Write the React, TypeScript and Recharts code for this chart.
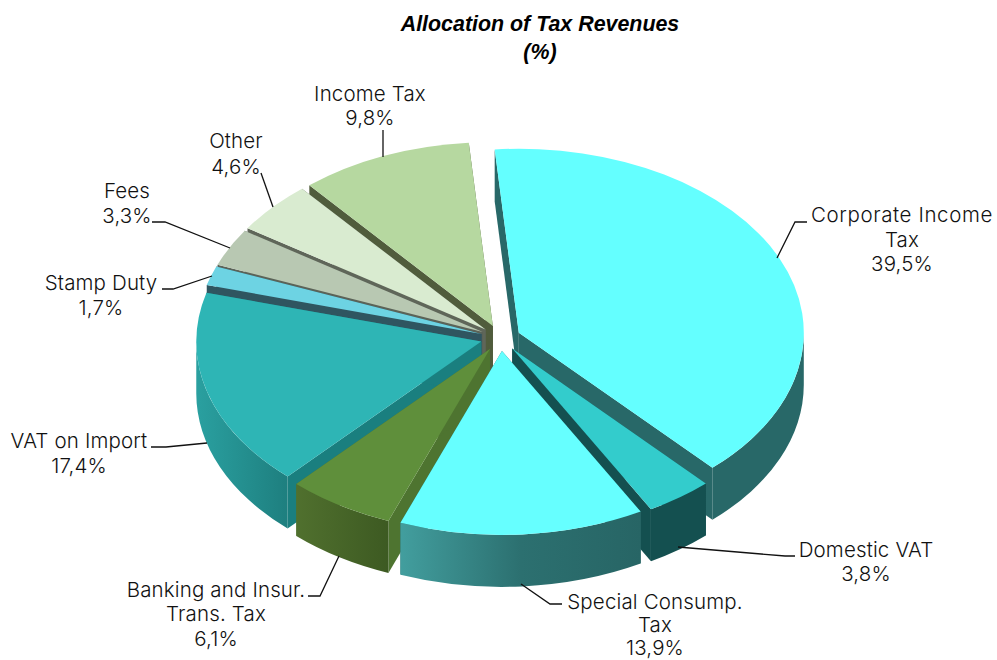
import { Pie, PieChart } from "recharts";

const sliceNames = [
  "Corporate Income Tax",
  "Domestic VAT",
  "Special Consump. Tax",
  "Banking and Insur. Trans. Tax",
  "VAT on Import",
  "Stamp Duty",
  "Fees",
  "Other",
  "Income Tax",
];
const sliceValues = [39.5, 3.8, 13.9, 6.1, 17.4, 1.7, 3.3, 4.6, 9.8];

const slices = sliceNames.map((name, i) => ({ name, value: sliceValues[i] }));

// back to front, the pie is exploded so the cut faces overlap
const drawOrder = [
  "Income Tax",
  "Other",
  "Fees",
  "Stamp Duty",
  "VAT on Import",
  "Corporate Income Tax",
  "Domestic VAT",
  "Banking and Insur. Trans. Tax",
  "Special Consump. Tax",
];

const CX = 500.5;
const CY = 338;
const RX = 285;
const TILT = 184 / 285;
const DEPTH = 52;
const EXPLODE = 20;
const START = 94.85;
const FONT = "Inter, sans-serif";

type SliceStyle = { top: string; cut: string; wall: string[] };

const styles: Record<string, SliceStyle> = {
  "Corporate Income Tax": { top: "#64ffff", cut: "#286868", wall: ["#286868", "#286868"] },
  "Domestic VAT": { top: "#33cccc", cut: "#145050", wall: ["#145050", "#145050"] },
  "Special Consump. Tax": { top: "#66ffff", cut: "#286868", wall: ["#429e9e", "#2c7070", "#276565"] },
  "Banking and Insur. Trans. Tax": { top: "#5f8f3b", cut: "#4e7430", wall: ["#50702e", "#3d5a22"] },
  "VAT on Import": { top: "#2eb5b5", cut: "#1a7f7f", wall: ["#2aa0a0", "#1e7f7f"] },
  "Stamp Duty": { top: "#6dd3e3", cut: "#2f5560", wall: ["#2f5560", "#2f5560"] },
  Fees: { top: "#b8c8b2", cut: "#5b6358", wall: ["#5b6358", "#5b6358"] },
  Other: { top: "#d9ebd0", cut: "#5f6659", wall: ["#5f6659", "#5f6659"] },
  "Income Tax": { top: "#b6d8a0", cut: "#505c3c", wall: ["#505c3c", "#505c3c"] },
};

// text lines and leader line for each outside label
const labelLayout: Record<string, { x: number; y: number[]; lines: string[]; leader: string; spacing?: number }> = {
  "Corporate Income Tax": {
    x: 902,
    y: [222, 247, 271],
    lines: ["Corporate Income", "Tax"],
    leader: "777,258 795,222 807,222",
    spacing: 0.6,
  },
  "Domestic VAT": { x: 866, y: [557, 581], lines: ["Domestic VAT"], leader: "678,547 785,556 795,556" },
  "Special Consump. Tax": {
    x: 655,
    y: [609, 632, 655],
    lines: ["Special Consump.", "Tax"],
    leader: "521,584 550,604 562,604",
  },
  "Banking and Insur. Trans. Tax": {
    x: 216,
    y: [597, 621, 646],
    lines: ["Banking and Insur.", "Trans. Tax"],
    leader: "339,556 320,596 308,596",
  },
  "VAT on Import": { x: 79, y: [448, 473], lines: ["VAT on Import"], leader: "207,443 166,447 151,447" },
  "Stamp Duty": { x: 101, y: [290, 315], lines: ["Stamp Duty"], leader: "212,276 173,289 162,289" },
  Fees: { x: 127, y: [198, 223], lines: ["Fees"], leader: "230,248 165,222 152,222" },
  Other: { x: 236, y: [148, 174], lines: ["Other"], leader: "273,207 261,173" },
  "Income Tax": { x: 370, y: [101, 125], lines: ["Income Tax"], leader: "383,157 383,130" },
};

const rad = (deg: number) => (deg * Math.PI) / 180;

function Slice3D({ name, startAngle, endAngle }: { name: string; startAngle: number; endAngle: number }) {
  const style = styles[name];
  const mid = rad((startAngle + endAngle) / 2);
  const ox = CX + EXPLODE * Math.cos(mid);
  const oy = CY - EXPLODE * TILT * Math.sin(mid);
  const px = (a: number) => ox + RX * Math.cos(rad(a));
  const py = (a: number) => oy - RX * TILT * Math.sin(rad(a));
  const ry = RX * TILT;
  const large = startAngle - endAngle > 180 ? 1 : 0;

  const top = `M${ox},${oy} L${px(startAngle)},${py(startAngle)} A${RX},${ry} 0 ${large} 1 ${px(endAngle)},${py(endAngle)} Z`;
  const cut = (a: number) =>
    `M${ox},${oy} L${px(a)},${py(a)} L${px(a)},${py(a) + DEPTH} L${ox},${oy + DEPTH} Z`;

  // only the front half of the rim can be seen
  const a1 = Math.min(startAngle, 0);
  const a2 = Math.max(endAngle, -180);
  const gradientId = `wall-${sliceNames.indexOf(name)}`;
  let rim = null;
  if (a1 > a2) {
    const wall = `M${px(a1)},${py(a1)} A${RX},${ry} 0 0 1 ${px(a2)},${py(a2)} L${px(a2)},${py(a2) + DEPTH} A${RX},${ry} 0 0 0 ${px(a1)},${py(a1) + DEPTH} Z`;
    const left = Math.min(px(a1), px(a2));
    const right = Math.max(px(a1), px(a2));
    rim = (
      <>
        <defs>
          <linearGradient id={gradientId} gradientUnits="userSpaceOnUse" x1={left} x2={right} y1={0} y2={0}>
            {style.wall.map((color, i) => (
              <stop key={i} offset={i / (style.wall.length - 1)} stopColor={color} />
            ))}
          </linearGradient>
        </defs>
        <path d={wall} fill={`url(#${gradientId})`} />
      </>
    );
  }

  return (
    <g>
      <path d={cut(startAngle)} fill={style.cut} />
      <path d={cut(endAngle)} fill={style.cut} />
      {rim}
      <path d={top} fill={style.top} />
    </g>
  );
}

function renderLabel(props: any) {
  const name = props.payload?.name ?? props.name;
  const layout = labelLayout[name];
  const percent = Number(props.value).toFixed(1).replace(".", ",");
  const rows = [...layout.lines, `${percent}%`];
  return (
    <g key={name}>
      <polyline points={layout.leader} fill="none" stroke="#111" strokeWidth={1.3} />
      {rows.map((row, i) => (
        <text
          key={row}
          x={layout.x}
          y={layout.y[i]}
          textAnchor="middle"
          fontFamily={FONT}
          fontWeight={300}
          fontSize={20.5}
          letterSpacing={i === 0 && layout.spacing ? layout.spacing : 0.15}
          fill="#111"
        >
          {row}
        </text>
      ))}
    </g>
  );
}

export default function App() {
  return (
    <div style={{ position: "absolute", left: 0, top: 0, width: 997, height: 660 }}>
      <PieChart width={997} height={660} margin={{ top: 0, right: 0, bottom: 0, left: 0 }}>
        {drawOrder.map((current, i) => (
          <Pie
            key={current}
            data={slices}
            dataKey="value"
            nameKey="name"
            cx={CX}
            cy={CY}
            outerRadius={RX}
            startAngle={START}
            endAngle={START - 360}
            isAnimationActive={false}
            stroke="none"
            label={i === drawOrder.length - 1 ? renderLabel : false}
            labelLine={false}
            shape={(props: any) => {
              const name = props.payload?.name ?? props.name;
              return name === current ? (
                <Slice3D name={name} startAngle={props.startAngle} endAngle={props.endAngle} />
              ) : (
                <g />
              );
            }}
          />
        ))}
        <text
          x={540}
          y={31}
          textAnchor="middle"
          fontFamily="Liberation Sans, Arial, sans-serif"
          fontWeight={700}
          fontStyle="italic"
          fontSize={21.4}
          fill="#000"
        >
          Allocation of Tax Revenues
        </text>
        <text
          x={540}
          y={59}
          textAnchor="middle"
          fontFamily="Liberation Sans, Arial, sans-serif"
          fontWeight={700}
          fontStyle="italic"
          fontSize={21.4}
          fill="#000"
        >
          (%)
        </text>
      </PieChart>
    </div>
  );
}
